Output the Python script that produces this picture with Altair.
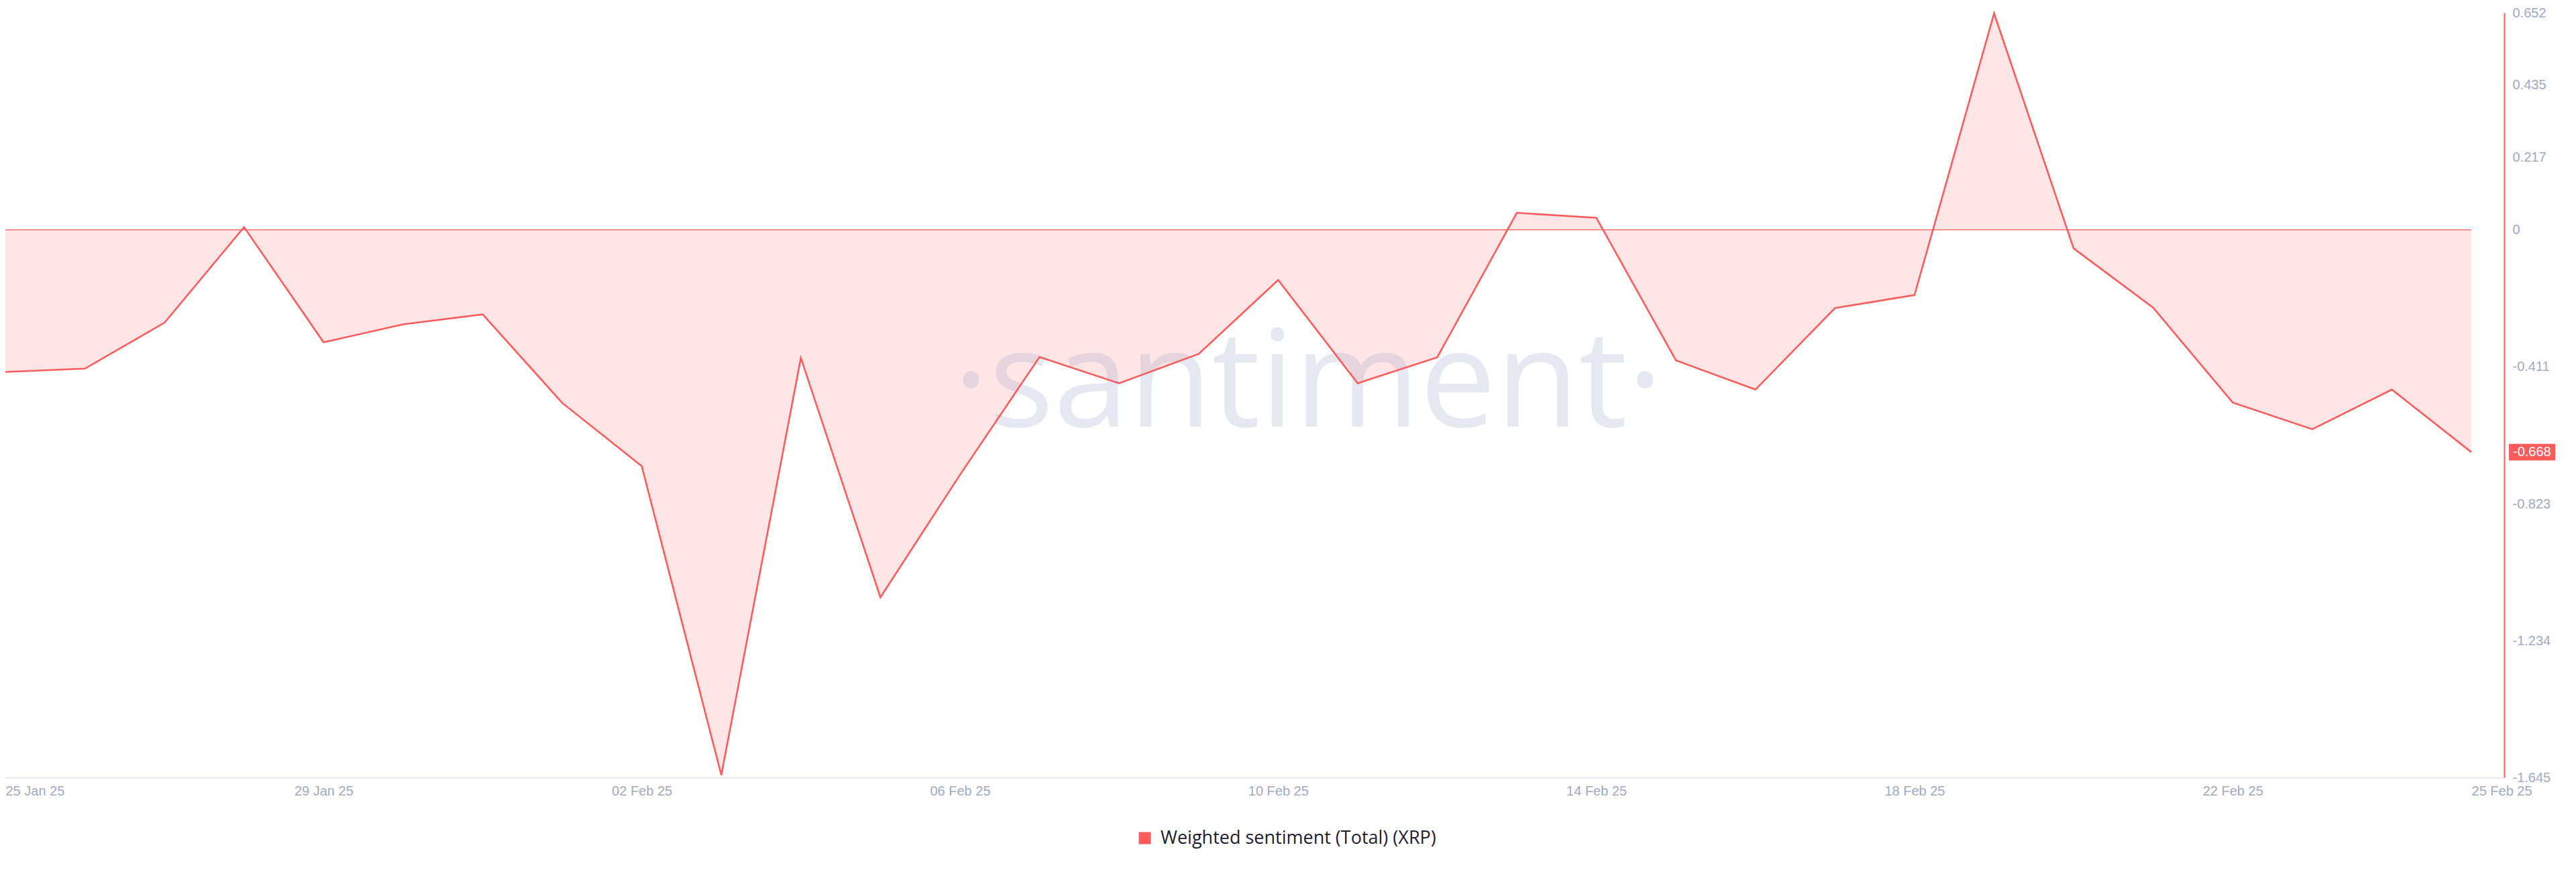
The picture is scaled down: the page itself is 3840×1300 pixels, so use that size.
import altair as alt
import pandas as pd

# ---- data ----
dates = [
    "2025-01-25", "2025-01-26", "2025-01-27", "2025-01-28", "2025-01-29", "2025-01-30",
    "2025-01-31", "2025-02-01", "2025-02-02", "2025-02-03", "2025-02-04", "2025-02-05",
    "2025-02-06", "2025-02-07", "2025-02-08", "2025-02-09", "2025-02-10", "2025-02-11",
    "2025-02-12", "2025-02-13", "2025-02-14", "2025-02-15", "2025-02-16", "2025-02-17",
    "2025-02-18", "2025-02-19", "2025-02-20", "2025-02-21", "2025-02-22", "2025-02-23",
    "2025-02-24", "2025-02-25",
]
sentiment = [
    -0.427, -0.417, -0.279, 0.008, -0.338, -0.284, -0.254, -0.520, -0.710, -1.638,
    -0.385, -1.104, -0.736, -0.382, -0.461, -0.373, -0.151, -0.461, -0.383, 0.051,
    0.036, -0.392, -0.480, -0.235, -0.196, 0.650, -0.056, -0.234, -0.519, -0.599,
    -0.480, -0.668,
]
series_name = "Weighted sentiment (Total) (XRP)"
y_ticks = [-1.645, -1.234, -0.823, -0.411, 0, 0.217, 0.435, 0.652]
x_ticks = ["2025-01-25", "2025-01-29", "2025-02-02", "2025-02-06", "2025-02-10",
           "2025-02-14", "2025-02-18", "2025-02-22", "2025-02-25"]
x_domain = ["2025-01-25T00:00:00", "2025-02-25T09:55:00"]
y_domain = [-1.645, 0.652]
watermark = "·santiment·"

# ---- styling ----
W, H = 3725, 1140
RED = "#ff5b5b"
FILL = "#ffe5e6"
AXIS_TXT = "#9faac4"


def to_dt(s):
    d, _, t = s.partition("T")
    y, m, dd = (int(v) for v in d.split("-"))
    hh, mm = 0, 0
    if t:
        hh, mm = int(t[0:2]), int(t[3:5])
    return alt.DateTime(year=y, month=m, date=dd, hours=hh, minutes=mm, utc=True)


df = pd.DataFrame({"date": dates, "value": sentiment})
df["series"] = series_name
last_df = df.tail(1)

x_scale = alt.Scale(type="utc", domain=[to_dt(s) for s in x_domain])
y_scale = alt.Scale(domain=y_domain, nice=False, zero=False)

x_axis = alt.Axis(
    values=[to_dt(s) for s in x_ticks],
    labelExpr="utcFormat(datum.value, '%d %b %y')",
    labelAlign={"condition": {"test": "datum.index == 0 || datum.index == 1", "value": "left"},
                "value": "center"},
    labelFlush=False,
    labelOverlap=False,
    labelFontSize=20,
    labelFont="Liberation Sans",
    labelColor=AXIS_TXT,
    labelPadding=10,
    domainColor="#e3e8f1",
    domainWidth=2,
    ticks=False,
    grid=False,
    title=None,
)
y_axis = alt.Axis(
    orient="right",
    values=y_ticks,
    labelExpr="datum.value == 0 ? '0' : (datum.value < 0 ? '-' : '') + format(abs(datum.value), '.3f')",
    labelFontSize=20,
    labelFont="Liberation Sans",
    labelColor=AXIS_TXT,
    labelPadding=12,
    labelOverlap=False,
    domainColor=RED,
    domainWidth=2,
    ticks=False,
    grid=False,
    title=None,
)

base = alt.Chart(df)

area = base.mark_area(color=FILL, opacity=1).encode(
    x=alt.X("date:T", scale=x_scale, axis=x_axis),
    y=alt.Y("value:Q", scale=y_scale, axis=y_axis),
    y2=alt.datum(0),
)

wm = alt.Chart(pd.DataFrame({"t": [watermark]})).mark_text(
    font="Open Sans", fontSize=202, color="#8291be", opacity=0.2,
    align="center", baseline="alphabetic",
).encode(text="t:N", x=alt.value(1942), y=alt.value(617))

zero_line = base.mark_line(color=RED, strokeWidth=1.2).encode(
    x="date:T", y=alt.datum(0)
)

line = base.mark_line(color=RED, strokeWidth=2.6, strokeJoin="miter").encode(
    x="date:T", y="value:Q"
)

last_box = alt.Chart(last_df).mark_point(
    shape="M-1,-0.362L1,-0.362L1,0.362L-1,0.362Z", size=69 * 69,
    filled=True, fill=RED, opacity=1, strokeWidth=0,
).encode(x=alt.value(W + 41.5), y="value:Q")

last_text = alt.Chart(last_df).transform_calculate(
    lbl="(datum.value < 0 ? '-' : '') + format(abs(datum.value), '.3f')"
).mark_text(
    align="left", baseline="middle", color="white", fontSize=20, font="Liberation Sans",
).encode(x=alt.value(W + 13), y="value:Q", text="lbl:N")

legend_layer = base.transform_filter("false").mark_square(filled=True, opacity=1).encode(
    x="date:T",
    y="value:Q",
    color=alt.Color(
        "series:N",
        scale=alt.Scale(domain=[series_name], range=[RED]),
        legend=alt.Legend(
            title=None, orient="none", legendX=1685, legendY=1217,
            symbolType="square", symbolSize=324, symbolStrokeWidth=0,
            symbolFillColor=RED, labelFontSize=27, labelFont="Open Sans",
            labelColor="#1a1e33", labelOffset=10, padding=0, labelLimit=0,
        ),
    ),
)

chart = alt.layer(area, wm, zero_line, line, last_box, last_text, legend_layer).properties(
    width=W, height=H,
    autosize=alt.AutoSizeParams(type="none"),
    padding={"left": 0, "top": 11, "right": 95, "bottom": 125},
    background="white",
).configure_view(stroke=None)

chart.save("out.html", embed_options={"renderer": "svg", "actions": False})
